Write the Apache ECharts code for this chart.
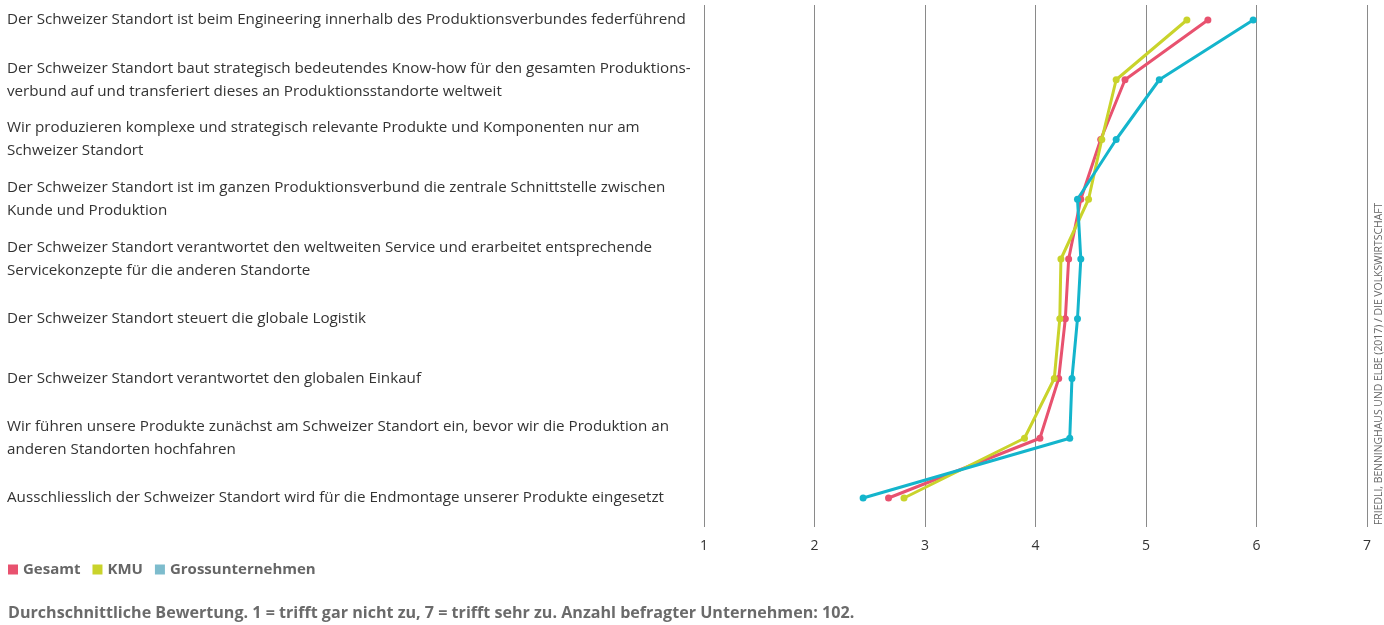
<!DOCTYPE html>
<html>
<head>
<meta charset="utf-8">
<script src="https://cdn.jsdelivr.net/npm/echarts@6/dist/echarts.min.js"></script>
<style>
  html, body { margin: 0; padding: 0; background: #fff; }
  #chart { width: 1384px; height: 625px; }
</style>
</head>
<body>
<div id="chart"></div>
<script>
let chartDom = document.getElementById("chart");
let myChart = echarts.init(chartDom);
let option;

// Aussagen (von oben nach unten)
const categories = [
  "Der Schweizer Standort ist beim Engineering innerhalb des Produktionsverbundes federführend",
  "Der Schweizer Standort baut strategisch bedeutendes Know-how für den gesamten Produktions-\nverbund auf und transferiert dieses an Produktionsstandorte weltweit",
  "Wir produzieren komplexe und strategisch relevante Produkte und Komponenten nur am\nSchweizer Standort",
  "Der Schweizer Standort ist im ganzen Produktionsverbund die zentrale Schnittstelle zwischen\nKunde und Produktion",
  "Der Schweizer Standort verantwortet den weltweiten Service und erarbeitet entsprechende\nServicekonzepte für die anderen Standorte",
  "Der Schweizer Standort steuert die globale Logistik",
  "Der Schweizer Standort verantwortet den globalen Einkauf",
  "Wir führen unsere Produkte zunächst am Schweizer Standort ein, bevor wir die Produktion an\nanderen Standorten hochfahren",
  "Ausschliesslich der Schweizer Standort wird für die Endmontage unserer Produkte eingesetzt",
];
const gesamt = [5.56, 4.81, 4.59, 4.41, 4.3, 4.27, 4.21, 4.04, 2.67];
const kmu = [5.37, 4.73, 4.6, 4.48, 4.23, 4.22, 4.17, 3.9, 2.81];
const gross = [5.97, 5.12, 4.73, 4.38, 4.41, 4.38, 4.33, 4.31, 2.44];
const xTicks = [1, 2, 3, 4, 5, 6, 7];

const colors = { gesamt: "#e8526f", kmu: "#c9d32b", gross: "#14b5cc" };
const fontFamily = "'Open Sans', 'Noto Sans', sans-serif";

const makeSeries = (name, values, color) => ({
  type: "line",
  name: name,
  xAxisIndex: 1,
  yAxisIndex: 1,
  data: values,
  symbol: "circle",
  symbolSize: 7,
  lineStyle: { width: 3, color: color },
  itemStyle: { color: color },
  animation: false,
});

option = {
  backgroundColor: "#fff",
  textStyle: { fontFamily: fontFamily },
  grid: [
    // Gitterlinien + Achsenbeschriftung
    { left: 704, right: 17, top: 5, bottom: 98 },
    // Datenbereich
    { left: 704, right: 17, top: 20, bottom: 127 },
  ],
  xAxis: [
    {
      gridIndex: 0,
      type: "value",
      min: xTicks[0],
      max: xTicks[xTicks.length - 1],
      interval: 1,
      axisLine: { show: false },
      axisTick: { show: false },
      splitLine: { show: true, lineStyle: { color: "#8a8a8a", width: 1 } },
      axisLabel: {
        color: "#333",
        fontSize: 14,
        margin: 12,
        formatter: (v) => (xTicks.includes(v) ? String(v) : ""),
      },
    },
    {
      gridIndex: 1,
      type: "value",
      min: 1,
      max: 7,
      show: false,
    },
  ],
  yAxis: [
    {
      gridIndex: 0,
      type: "value",
      show: false,
    },
    {
      gridIndex: 1,
      type: "category",
      inverse: true,
      boundaryGap: false,
      data: categories,
      axisLine: { show: false },
      axisTick: { show: false },
      splitLine: { show: false },
      axisLabel: {
        align: "left",
        margin: 697,
        color: "#333",
        fontSize: 15.2,
        lineHeight: 23,
        interval: 0,
      },
    },
  ],
  legend: {
    left: 3,
    top: 557,
    itemWidth: 10,
    itemHeight: 10,
    itemGap: 12,
    icon: "rect",
    textStyle: { color: "#666", fontSize: 15, fontWeight: "bold", padding: [0, 0, 0, 0] },
    data: [
      { name: "Gesamt", itemStyle: { color: colors.gesamt } },
      { name: "KMU", itemStyle: { color: colors.kmu } },
      { name: "Grossunternehmen", itemStyle: { color: "#7dbccd" } },
    ],
  },
  graphic: [
    {
      type: "text",
      left: 8,
      top: 605,
      style: {
        text: "Durchschnittliche Bewertung. 1 = trifft gar nicht zu, 7 = trifft sehr zu. Anzahl befragter Unternehmen: 102.",
        fill: "#6b6b6b",
        font: "bold 16.1px " + fontFamily,
      },
    },
    {
      // Quelle, vertikal
      type: "text",
      x: 1379,
      y: 525,
      rotation: Math.PI / 2,
      style: {
        text: "FRIEDLI, BENNINGHAUS UND ELBE (2017) / DIE VOLKSWIRTSCHAFT",
        fill: "#666",
        font: "10.4px " + fontFamily,
        textAlign: "left",
        textVerticalAlign: "middle",
      },
    },
  ],
  series: [
    makeSeries("Gesamt", gesamt, colors.gesamt),
    makeSeries("KMU", kmu, colors.kmu),
    makeSeries("Grossunternehmen", gross, colors.gross),
  ],
};

option && myChart.setOption(option);
</script>
</body>
</html>
